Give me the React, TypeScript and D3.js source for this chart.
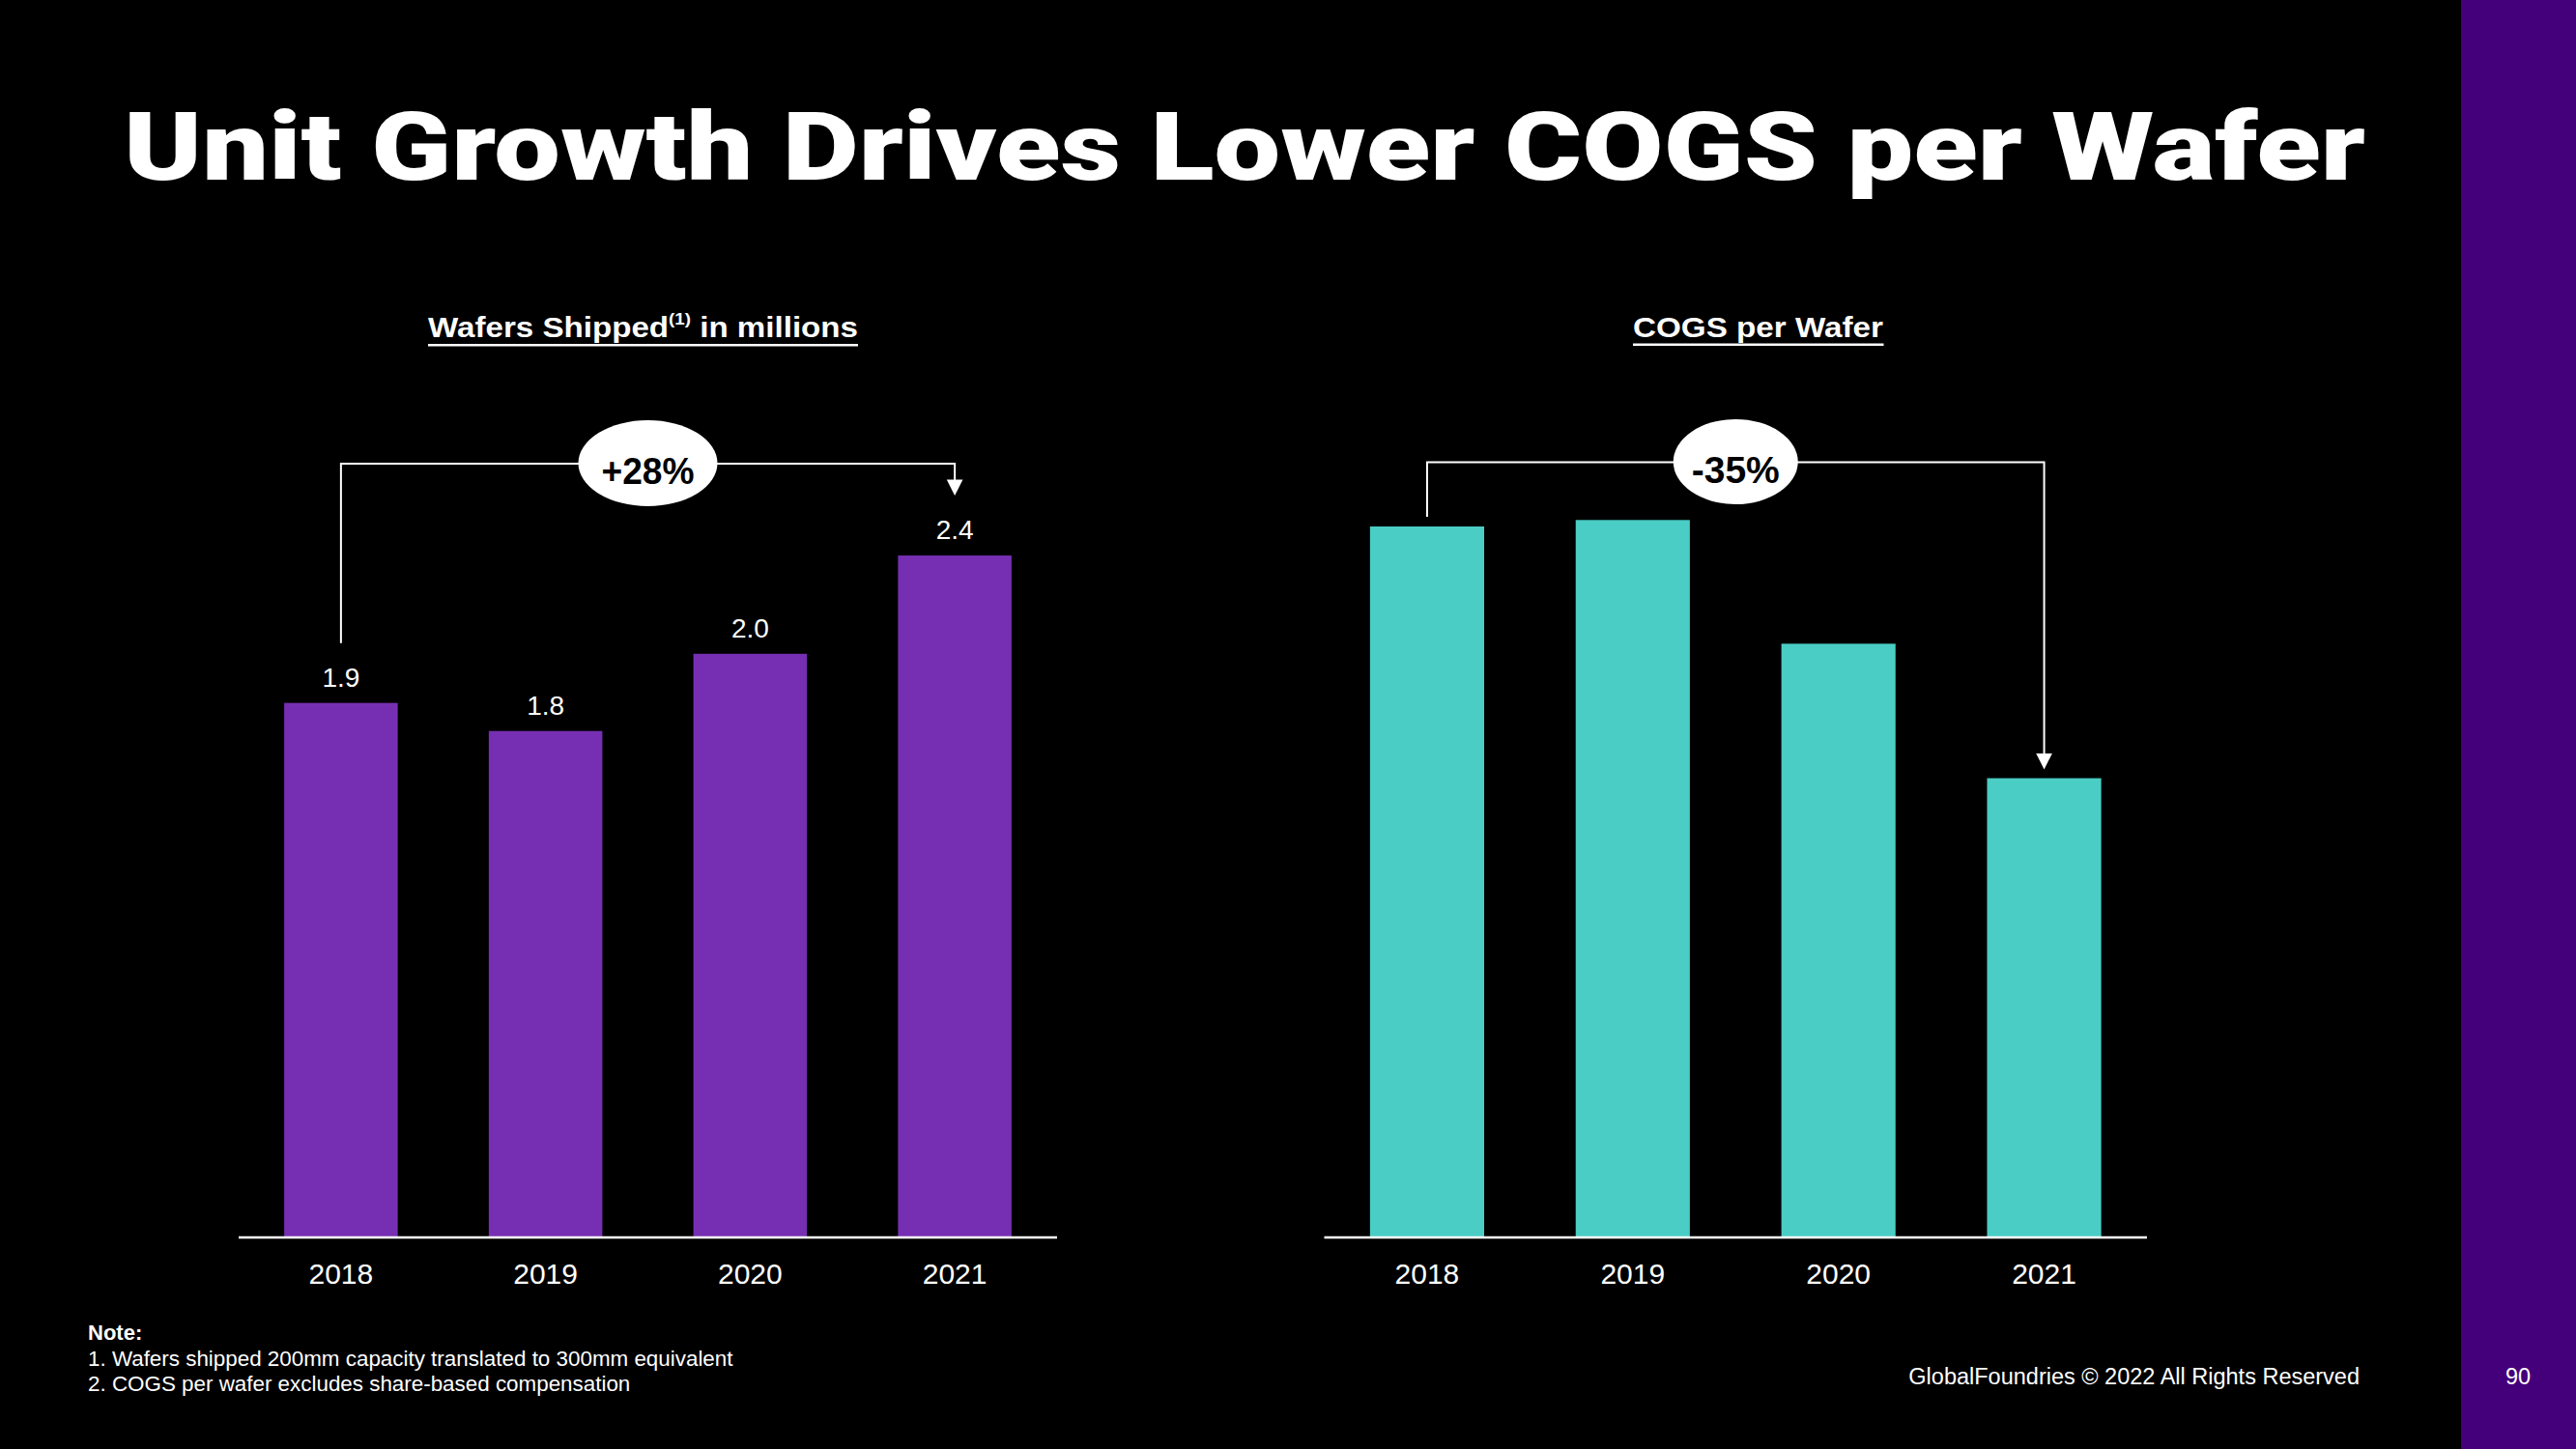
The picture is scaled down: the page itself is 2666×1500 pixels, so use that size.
import React, { useEffect } from "react";
import * as d3 from "d3";

const years = ["2018", "2019", "2020", "2021"];
const wafersShipped = [1.9, 1.8, 2.075, 2.425];
const wafersLabels = ["1.9", "1.8", "2.0", "2.4"];
const cogsPerWafer = [3300, 3330, 2755, 2130];
const changeLabels = ["+28%", "-35%"];
const notes = [
  "1. Wafers shipped 200mm capacity translated to 300mm equivalent",
  "2. COGS per wafer excludes share-based compensation",
];

const W = 2666;
const H = 1500;
const BASE = 1280;
const PURPLE = "#762FB2";
const TEAL = "#4ACDC4";
const BAND = "#44007A";
const FONT = "'Liberation Sans', Arial, Helvetica, sans-serif";

export default function App() {
  useEffect(() => {
    document.body.style.margin = "0";
    document.body.style.background = "#000";
  }, []);

  const xL = d3.scaleBand<string>().domain(years).range([247, 1094]).paddingInner(0.445).paddingOuter(0.2225);
  const xR = d3.scaleBand<string>().domain(years).range([1370.5, 2222]).paddingInner(0.445).paddingOuter(0.2225);
  const yL = d3.scaleLinear().domain([0, 2.5]).range([BASE, BASE - 2.5 * 290.7]);
  const yR = d3.scaleLinear().domain([0, 4000]).range([BASE, BASE - 4000 * 0.22273]);
  const bwL = xL.bandwidth();
  const bwR = xR.bandwidth();

  const cL0 = (xL(years[0]) as number) + bwL / 2;
  const cL3 = (xL(years[3]) as number) + bwL / 2;
  const cR0 = (xR(years[0]) as number) + bwR / 2;
  const cR3 = (xR(years[3]) as number) + bwR / 2;

  const bracketL = { y: 480, y0: yL(wafersShipped[0]) - 62, tip: yL(wafersShipped[3]) - 62 };
  const bracketR = { y: 478.5, y0: yR(cogsPerWafer[0]) - 10, tip: yR(cogsPerWafer[3]) - 9 };
  const line = d3.line();

  const arrowHead = (x: number, tip: number) =>
    `M${x - 8.3},${tip - 16.5} L${x + 8.3},${tip - 16.5} L${x},${tip} Z`;

  return (
    <svg width={W} height={H} style={{ display: "block", background: "#000" }} fontFamily={FONT}>
      <rect x={0} y={0} width={W} height={H} fill="#000" />
      <rect x={2547} y={0} width={W - 2547} height={H} fill={BAND} />

      {/* Title */}
      <text
        x={128}
        y={186}
        fill="#fff"
        fontSize={99}
        fontWeight={900}
        fontFamily="Roboto, Lato, 'Liberation Sans', sans-serif"
        textLength={2320}
        lengthAdjust="spacingAndGlyphs"
      >
        Unit Growth Drives Lower COGS per Wafer
      </text>

      {/* Subtitles */}
      <text x={443} y={349} fill="#fff" fontSize={30} fontWeight={700} textLength={445} lengthAdjust="spacingAndGlyphs">
        <tspan>Wafers Shipped</tspan>
        <tspan fontSize={17} dy={-13}>(1)</tspan>
        <tspan dy={13}> in millions</tspan>
      </text>
      <rect x={443} y={356} width={445} height={2.5} fill="#fff" />
      <text x={1690} y={348.5} fill="#fff" fontSize={30} fontWeight={700} textLength={259} lengthAdjust="spacingAndGlyphs">
        COGS per Wafer
      </text>
      <rect x={1690} y={355.5} width={259.5} height={2.5} fill="#fff" />

      {/* Left chart bars */}
      {years.map((yr, i) => (
        <g key={"l" + yr}>
          <rect
            x={xL(yr)}
            y={yL(wafersShipped[i])}
            width={bwL}
            height={BASE - yL(wafersShipped[i])}
            fill={PURPLE}
          />
          <text
            x={(xL(yr) as number) + bwL / 2}
            y={yL(wafersShipped[i]) - 17}
            fill="#fff"
            fontSize={28}
            textAnchor="middle"
          >
            {wafersLabels[i]}
          </text>
          <text x={(xL(yr) as number) + bwL / 2} y={1329} fill="#fff" fontSize={30} textAnchor="middle">
            {yr}
          </text>
        </g>
      ))}
      <line x1={247} x2={1094} y1={BASE + 1} y2={BASE + 1} stroke="#fff" strokeWidth={2.5} />

      {/* Right chart bars */}
      {years.map((yr, i) => (
        <g key={"r" + yr}>
          <rect
            x={xR(yr)}
            y={yR(cogsPerWafer[i])}
            width={bwR}
            height={BASE - yR(cogsPerWafer[i])}
            fill={TEAL}
          />
          <text x={(xR(yr) as number) + bwR / 2} y={1329} fill="#fff" fontSize={30} textAnchor="middle">
            {yr}
          </text>
        </g>
      ))}
      <line x1={1370.5} x2={2222} y1={BASE + 1} y2={BASE + 1} stroke="#fff" strokeWidth={2.5} />

      {/* Left bracket annotation */}
      <path
        d={
          line([
            [cL0, bracketL.y0],
            [cL0, bracketL.y],
            [cL3, bracketL.y],
            [cL3, bracketL.tip - 14],
          ]) as string
        }
        fill="none"
        stroke="#fff"
        strokeWidth={2}
      />
      <path d={arrowHead(cL3, bracketL.tip)} fill="#fff" />
      <ellipse cx={(cL0 + cL3) / 2} cy={479.5} rx={72} ry={44.5} fill="#fff" />
      <text
        x={(cL0 + cL3) / 2}
        y={501}
        fill="#000"
        fontSize={39}
        fontWeight={700}
        textAnchor="middle"
        textLength={96}
        lengthAdjust="spacingAndGlyphs"
      >
        {changeLabels[0]}
      </text>

      {/* Right bracket annotation */}
      <path
        d={
          line([
            [cR0, bracketR.y0],
            [cR0, bracketR.y],
            [cR3, bracketR.y],
            [cR3, bracketR.tip - 14],
          ]) as string
        }
        fill="none"
        stroke="#fff"
        strokeWidth={2}
      />
      <path d={arrowHead(cR3, bracketR.tip)} fill="#fff" />
      <ellipse cx={(cR0 + cR3) / 2} cy={478} rx={64.5} ry={44} fill="#fff" />
      <text x={(cR0 + cR3) / 2} y={499.5} fill="#000" fontSize={39} fontWeight={700} textAnchor="middle">
        {changeLabels[1]}
      </text>

      {/* Notes */}
      <text x={91} y={1386.5} fill="#fff" fontSize={22} fontWeight={700}>
        Note:
      </text>
      {notes.map((n, i) => (
        <text key={n} x={91} y={1413.5 + i * 26} fill="#fff" fontSize={22.4}>
          {n}
        </text>
      ))}

      {/* Footer */}
      <text x={2442} y={1433} fill="#fff" fontSize={23.5} textAnchor="end">
        GlobalFoundries © 2022 All Rights Reserved
      </text>
      <text x={2606} y={1433} fill="#fff" fontSize={23.5} textAnchor="middle">
        90
      </text>
    </svg>
  );
}
